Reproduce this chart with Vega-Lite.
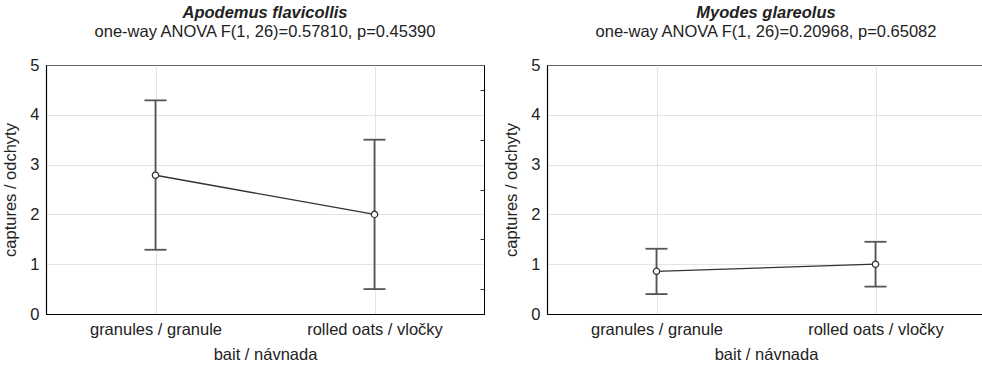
{
  "$schema": "https://vega.github.io/schema/vega-lite/v6.json",
  "padding": {"left": 2, "top": 4, "right": 0, "bottom": 0},
  "spacing": 18,
  "config": {
    "font": "Liberation Sans",
    "view": {"stroke": "#000", "strokeWidth": 1},
    "axis": {
      "labelFont": "Liberation Sans", "labelFontSize": 16.5, "labelColor": "#222",
      "titleFont": "Liberation Sans", "titleFontSize": 16.5, "titleFontWeight": "normal", "titleColor": "#222",
      "ticks": false, "domainColor": "#000", "domainWidth": 1.2,
      "gridColor": "#c8c8c8", "gridDash": [1, 1], "gridWidth": 1, "labelPadding": 7
    },
    "title": {"font": "Liberation Sans", "fontSize": 16.5, "fontStyle": "italic", "fontWeight": "bold", "color": "#222",
      "subtitleFont": "Liberation Sans", "subtitleFontSize": 16.5, "subtitleColor": "#222", "subtitlePadding": 2, "offset": 17}
  },
  "datasets": {
    "d": [
      {"species": "Apodemus flavicollis", "bait": "granules / granule", "mean": 2.786, "lo": 1.29, "hi": 4.29},
      {"species": "Apodemus flavicollis", "bait": "rolled oats / vločky", "mean": 2.0, "lo": 0.5, "hi": 3.5},
      {"species": "Myodes glareolus", "bait": "granules / granule", "mean": 0.857, "lo": 0.4, "hi": 1.31},
      {"species": "Myodes glareolus", "bait": "rolled oats / vločky", "mean": 1.0, "lo": 0.55, "hi": 1.45}
    ]
  },
  "hconcat": [
    {
      "width": 438, "height": 249,
      "title": {"text": "Apodemus flavicollis", "subtitle": "one-way ANOVA F(1, 26)=0.57810, p=0.45390"},
      "data": {"name": "d"},
      "transform": [{"filter": "datum.species == 'Apodemus flavicollis'"}],
      "encoding": {
        "x": {"field": "bait", "type": "nominal", "sort": ["granules / granule", "rolled oats / vločky"],
          "scale": {"type": "point", "padding": 0.5},
          "axis": {"title": "bait / návnada", "labelAngle": 0, "grid": true, "titlePadding": 9}}
      },
      "layer": [
        {
          "layer": [
            {"mark": {"type": "rule", "color": "#555", "strokeWidth": 1.8},
              "encoding": {"y": {"field": "lo", "type": "quantitative", "scale": {"domain": [0, 5]}, "axis": {"title": "captures / odchyty", "values": [0, 1, 2, 3, 4, 5], "grid": true, "titlePadding": 11}}, "y2": {"field": "hi"}}},
            {"mark": {"type": "tick", "color": "#555", "size": 22, "thickness": 1.8, "opacity": 1},
              "encoding": {"y": {"field": "lo", "type": "quantitative", "axis": {"title": "captures / odchyty", "values": [0, 1, 2, 3, 4, 5], "grid": true, "titlePadding": 11}}}},
            {"mark": {"type": "tick", "color": "#555", "size": 22, "thickness": 1.8, "opacity": 1},
              "encoding": {"y": {"field": "hi", "type": "quantitative", "axis": {"title": "captures / odchyty", "values": [0, 1, 2, 3, 4, 5], "grid": true, "titlePadding": 11}}}},
            {"mark": {"type": "line", "color": "#333", "strokeWidth": 1.3},
              "encoding": {"y": {"field": "mean", "type": "quantitative", "axis": {"title": "captures / odchyty", "values": [0, 1, 2, 3, 4, 5], "grid": true, "titlePadding": 11}}}},
            {"mark": {"type": "point", "filled": true, "fill": "white", "stroke": "#333", "strokeWidth": 1.3, "size": 40, "opacity": 1},
              "encoding": {"y": {"field": "mean", "type": "quantitative", "axis": {"title": "captures / odchyty", "values": [0, 1, 2, 3, 4, 5], "grid": true, "titlePadding": 11}}}}
          ]
        },
        {"mark": {"type": "tick", "opacity": 0},
          "encoding": {"y": {"field": "mean", "type": "quantitative", "axis": {"orient": "right", "title": null, "labels": false, "domain": false, "grid": false, "ticks": true, "tickSize": -4, "tickColor": "#333", "values": [0.5, 1.5, 2.5, 3.5, 4.5]}}}}
      ],
      "resolve": {"axis": {"y": "independent"}}
    },
    {
      "width": 438, "height": 249,
      "title": {"text": "Myodes glareolus", "subtitle": "one-way ANOVA F(1, 26)=0.20968, p=0.65082"},
      "data": {"name": "d"},
      "transform": [{"filter": "datum.species == 'Myodes glareolus'"}],
      "encoding": {
        "x": {"field": "bait", "type": "nominal", "sort": ["granules / granule", "rolled oats / vločky"],
          "scale": {"type": "point", "padding": 0.5},
          "axis": {"title": "bait / návnada", "labelAngle": 0, "grid": true, "titlePadding": 9}}
      },
      "layer": [
        {"mark": {"type": "rule", "color": "#555", "strokeWidth": 1.8},
          "encoding": {"y": {"field": "lo", "type": "quantitative", "scale": {"domain": [0, 5]}, "axis": {"title": "captures / odchyty", "values": [0, 1, 2, 3, 4, 5], "grid": true, "titlePadding": 11}}, "y2": {"field": "hi"}}},
        {"mark": {"type": "tick", "color": "#555", "size": 22, "thickness": 1.8, "opacity": 1},
          "encoding": {"y": {"field": "lo", "type": "quantitative", "axis": {"title": "captures / odchyty", "values": [0, 1, 2, 3, 4, 5], "grid": true, "titlePadding": 11}}}},
        {"mark": {"type": "tick", "color": "#555", "size": 22, "thickness": 1.8, "opacity": 1},
          "encoding": {"y": {"field": "hi", "type": "quantitative", "axis": {"title": "captures / odchyty", "values": [0, 1, 2, 3, 4, 5], "grid": true, "titlePadding": 11}}}},
        {"mark": {"type": "line", "color": "#333", "strokeWidth": 1.3},
          "encoding": {"y": {"field": "mean", "type": "quantitative", "axis": {"title": "captures / odchyty", "values": [0, 1, 2, 3, 4, 5], "grid": true, "titlePadding": 11}}}},
        {"mark": {"type": "point", "filled": true, "fill": "white", "stroke": "#333", "strokeWidth": 1.3, "size": 40, "opacity": 1},
          "encoding": {"y": {"field": "mean", "type": "quantitative", "axis": {"title": "captures / odchyty", "values": [0, 1, 2, 3, 4, 5], "grid": true, "titlePadding": 11}}}}
      ]
    }
  ]
}
